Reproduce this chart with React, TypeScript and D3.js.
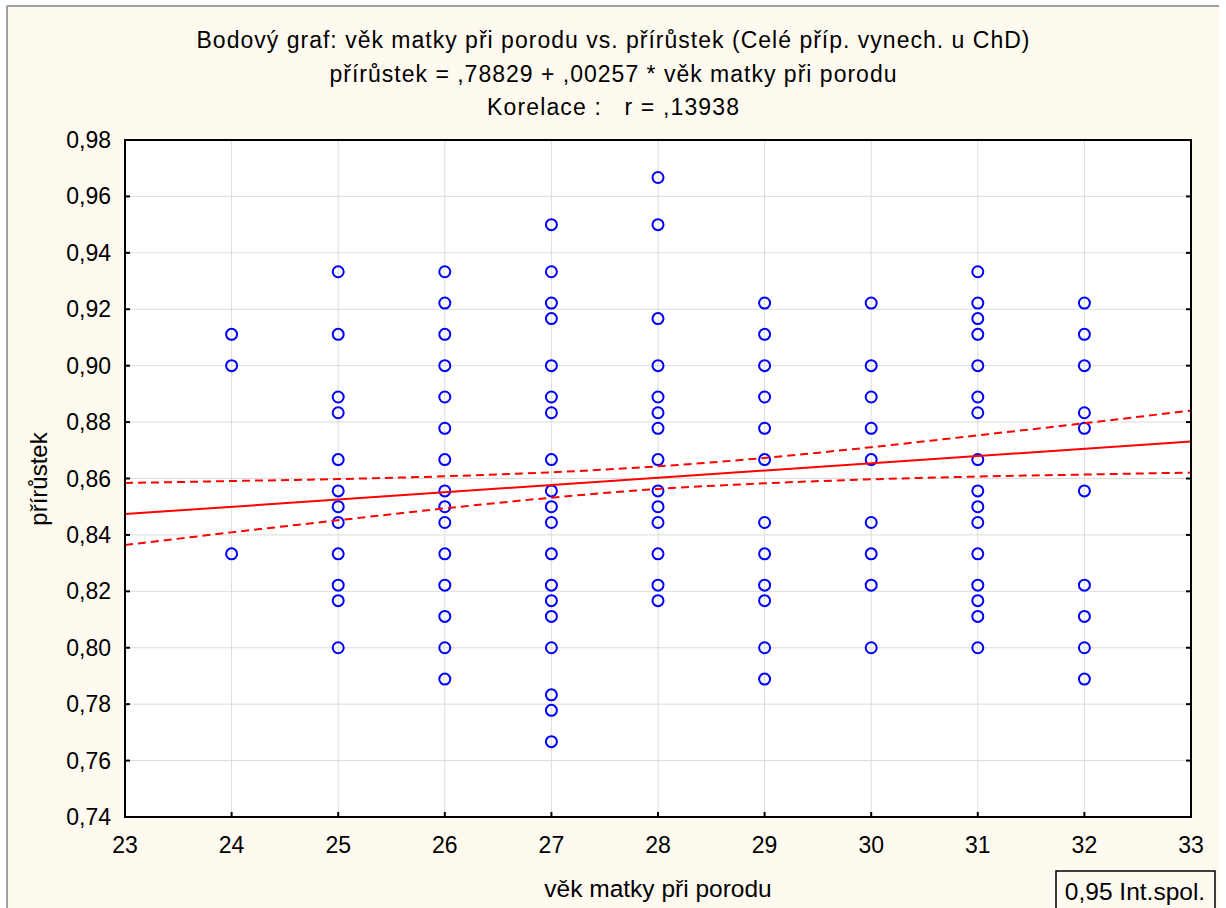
import React from 'react';
import * as d3 from 'd3';

// values, one list per mother's age
const ages = [24, 25, 26, 27, 28, 29, 30, 31, 32];
const vals24 = [0.9111, 0.9, 0.8333];
const vals25 = [0.9333, 0.9111, 0.8889, 0.8833, 0.8667, 0.8556, 0.85, 0.8444, 0.8333, 0.8222, 0.8167, 0.8];
const vals26 = [0.9333, 0.9222, 0.9111, 0.9, 0.8889, 0.8778, 0.8667, 0.8556, 0.85, 0.8444, 0.8333, 0.8222, 0.8111, 0.8, 0.7889];
const vals27 = [0.95, 0.9333, 0.9222, 0.9167, 0.9, 0.8889, 0.8833, 0.8667, 0.8556, 0.85, 0.8444, 0.8333, 0.8222, 0.8167, 0.8111, 0.8, 0.7833, 0.7778, 0.7667];
const vals28 = [0.9667, 0.95, 0.9167, 0.9, 0.8889, 0.8833, 0.8778, 0.8667, 0.8556, 0.85, 0.8444, 0.8333, 0.8222, 0.8167];
const vals29 = [0.9222, 0.9111, 0.9, 0.8889, 0.8778, 0.8667, 0.8444, 0.8333, 0.8222, 0.8167, 0.8, 0.7889];
const vals30 = [0.9222, 0.9, 0.8889, 0.8778, 0.8667, 0.8444, 0.8333, 0.8222, 0.8];
const vals31 = [0.9333, 0.9222, 0.9167, 0.9111, 0.9, 0.8889, 0.8833, 0.8667, 0.8556, 0.85, 0.8444, 0.8333, 0.8222, 0.8167, 0.8111, 0.8];
const vals32 = [0.9222, 0.9111, 0.9, 0.8833, 0.8778, 0.8556, 0.8222, 0.8111, 0.8, 0.7889];
const columns = [vals24, vals25, vals26, vals27, vals28, vals29, vals30, vals31, vals32];

// fit line ends and 0.95 band, read at whole years
const fitX = [23, 33];
const fitY = [0.8474, 0.8731];
const bandX = [23, 24, 25, 26, 27, 28, 29, 30, 31, 32, 33];
const bandUpper = [0.8584, 0.8591, 0.8598, 0.8608, 0.8622, 0.8643, 0.8673, 0.8711, 0.8753, 0.8796, 0.8841];
const bandLower = [0.8364, 0.8409, 0.8452, 0.8494, 0.8532, 0.8563, 0.8583, 0.8597, 0.8607, 0.8614, 0.8621];

const xTicks = [23, 24, 25, 26, 27, 28, 29, 30, 31, 32, 33];
const yTicks = [0.74, 0.76, 0.78, 0.8, 0.82, 0.84, 0.86, 0.88, 0.9, 0.92, 0.94, 0.96, 0.98];
const yTickLabels = ['0,74', '0,76', '0,78', '0,80', '0,82', '0,84', '0,86', '0,88', '0,90', '0,92', '0,94', '0,96', '0,98'];

const titleLines = [
  'Bodový graf: věk matky při porodu vs. přírůstek (Celé příp. vynech. u ChD)',
  'přírůstek = ,78829 + ,00257 * věk matky při porodu',
  'Korelace :   r = ,13938',
];
const titleWidths = [833, 567, 252];

const W = 1226;
const H = 908;
const left = 125, right = 1191, top = 140, bottom = 817;
const font = '"Liberation Sans", Arial, sans-serif';

export default function App() {
  const x = d3.scaleLinear().domain([23, 33]).range([left, right]);
  const y = d3.scaleLinear().domain([0.74, 0.98]).range([bottom, top]);

  const points = ages.flatMap((a, i) => columns[i].map(v => ({ a, v })));

  const line = d3.line<[number, number]>().x(d => x(d[0])).y(d => y(d[1]));
  const curve = d3.line<[number, number]>().x(d => x(d[0])).y(d => y(d[1])).curve(d3.curveMonotoneX);

  const fitPath = line(fitX.map((v, i) => [v, fitY[i]]));
  const upPath = curve(bandX.map((v, i) => [v, bandUpper[i]]));
  const loPath = curve(bandX.map((v, i) => [v, bandLower[i]]));

  return (
    <svg width={W} height={H} style={{ position: 'absolute', left: 0, top: 0, background: '#fff' }}>
      <rect x={7} y={6} width={1212} height={H} fill="#FFFAF0" />
      <line x1={7} y1={6} x2={1219} y2={6} stroke="#a0a0a0" strokeWidth={2} />
      <line x1={7} y1={6} x2={7} y2={H} stroke="#a0a0a0" strokeWidth={2} />

      {titleLines.map((t, i) => (
        <text key={i} x={613} y={40 + i * 33.5} textAnchor="middle" dominantBaseline="central"
          fontFamily={font} fontSize={23} fill="#000" textLength={titleWidths[i]} lengthAdjust="spacing"
          style={{ whiteSpace: 'pre' }}>{t}</text>
      ))}

      <rect x={left} y={top} width={right - left} height={bottom - top} fill="#fff" />
      <g stroke="#dcdcdc" strokeWidth={1}>
        {xTicks.slice(1, -1).map(t => (
          <line key={t} x1={x(t)} x2={x(t)} y1={top} y2={bottom} />
        ))}
        {yTicks.slice(1, -1).map(t => (
          <line key={t} x1={left} x2={right} y1={y(t)} y2={y(t)} />
        ))}
      </g>

      <g>
        {points.map((p, i) => (
          <circle key={i} cx={x(p.a)} cy={y(p.v)} r={5.5} fill="none" stroke="#0000ff" strokeWidth={2} />
        ))}
      </g>

      <clipPath id="plotClip">
        <rect x={left} y={top} width={right - left} height={bottom - top} />
      </clipPath>
      <g clipPath="url(#plotClip)" fill="none" stroke="#ff0000" strokeWidth={2}>
        <path d={fitPath || ''} />
        <path d={upPath || ''} strokeDasharray="8,5" />
        <path d={loPath || ''} strokeDasharray="8,5" />
      </g>

      <rect x={left} y={top} width={right - left} height={bottom - top} fill="none" stroke="#000" strokeWidth={2} />
      <g stroke="#000" strokeWidth={2}>
        {yTicks.map(t => (
          <g key={t}>
            <line x1={left} x2={left + 5} y1={y(t)} y2={y(t)} />
            <line x1={right - 5} x2={right} y1={y(t)} y2={y(t)} />
          </g>
        ))}
        {xTicks.map(t => (
          <line key={t} x1={x(t)} x2={x(t)} y1={bottom} y2={bottom - 5} />
        ))}
      </g>

      <g fontFamily={font} fontSize={23} fill="#000">
        {yTicks.map((t, i) => (
          <text key={t} x={111} y={y(t)} textAnchor="end" dominantBaseline="central">{yTickLabels[i]}</text>
        ))}
        {xTicks.map(t => (
          <text key={t} x={x(t)} y={845} textAnchor="middle" dominantBaseline="central">{t}</text>
        ))}
        <text x={658} y={888} textAnchor="middle" dominantBaseline="central" fontSize={24.5}>věk matky při porodu</text>
        <text transform="translate(38,479) rotate(-90)" textAnchor="middle" dominantBaseline="central" fontSize={24}>přírůstek</text>
      </g>

      <rect x={1056} y={871} width={159} height={50} fill="none" stroke="#000" strokeWidth={1.5} />
      <text x={1135} y={891} textAnchor="middle" dominantBaseline="central" fontFamily={font} fontSize={24.5} fill="#000">0,95 Int.spol.</text>
    </svg>
  );
}
